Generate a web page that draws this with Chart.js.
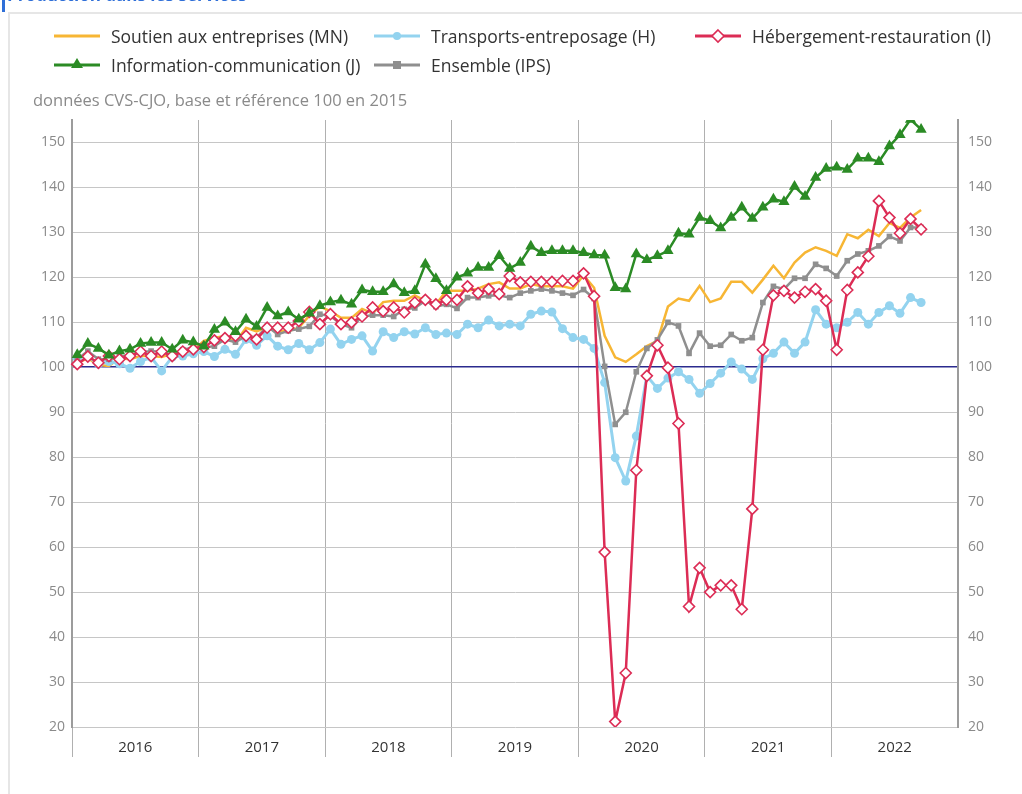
<!DOCTYPE html>
<html><head><meta charset="utf-8">
<script src="https://cdn.jsdelivr.net/npm/chart.js@4.4.1/dist/chart.umd.min.js"></script>
<style>
body{margin:0;background:#fff;font-family:"Open Sans",sans-serif;}
#wrap{position:relative;width:1022px;height:794px;overflow:hidden;background:#fff;}
#c{position:absolute;left:0;top:0;}
.title{position:absolute;left:7px;top:-17px;color:#2f6fd8;font-weight:bold;font-size:17px;white-space:nowrap;}
.bar{position:absolute;left:2px;top:0;width:3px;height:12px;background:#2f6fd8}
.frameTop{position:absolute;left:8px;top:12px;right:0;height:2px;background:#e6e6e6}
.frameLeft{position:absolute;left:8px;top:12px;bottom:0;width:2px;background:#e6e6e6}
.leg{position:absolute;font-size:17.5px;color:#333;display:flex;align-items:center;white-space:nowrap;height:22px;}
.leg svg{margin-right:10px;}
.sub{position:absolute;left:33px;top:88px;font-size:16.5px;color:#8a8a8a;white-space:nowrap;}
</style></head>
<body>
<div id="wrap">
<canvas id="c" width="1022" height="794"></canvas>
<div class="bar"></div>
<div class="title">Production dans les services</div>
<div class="frameTop"></div>
<div class="frameLeft"></div>
<div id="legend"></div>
<div class="sub">données CVS-CJO, base et référence 100 en 2015</div>
</div>
<script>
// ---- data ----
const years = ['2016','2017','2018','2019','2020','2021','2022'];
const months = [];
years.forEach(y => { for (let m = 1; m <= 12; m++) months.push(y + '-' + String(m).padStart(2,'0')); });

const soutienMN = [101,102,100.5,100.3,102,101.8,102.5,102.5,102.3,103,103.2,103.8,
105.9,106.5,107,105.5,108.8,108,109,108,108,108.8,111.5,113.5,
112.5,111,111,113,112,114.5,114.8,114.8,116,114.8,114,117,
117,117,117.5,118.5,118.9,117.5,117.5,118.5,118,118,118,117.5,
120.5,117.7,107,102.2,101.2,102.9,104.7,105.9,113.5,115.3,114.8,118.1,114.5,115.3,119,
119,116.6,119.5,122.6,119.8,123.3,125.5,126.7,125.9,124.8,129.6,128.7,130.6,129.2,132.1,131,133.3,135];

const transportsH = [102,102.5,100.7,101.3,100.8,99.8,101.3,102.2,99.2,102.3,102.5,103,103.5,102.4,104,102.9,
106.2,104.9,107,104.7,103.9,105.3,103.9,105.5,108.5,105.1,106.2,107,103.6,107.9,106.6,107.9,107.4,
108.8,107.3,107.6,107.3,109.6,108.8,110.5,109.2,109.6,109.2,111.8,112.5,112.3,108.6,106.6,106.2,104.2,
96.6,79.9,74.7,84.7,98.1,95.3,97.6,99,97.3,94.2,96.4,98.7,101.2,
99.6,97.3,101.9,103.1,105.6,103.1,105.6,112.8,109.6,108.8,110,112.2,109.6,112.2,113.7,112,115.5,114.4];

const hebergementI = [100.7,102.4,101,102.5,101.8,102.5,103.5,102.5,103.5,102.5,103.5,104,104.5,106,106.5,107,
107,106.2,108.8,108.8,108.8,110.3,112.3,109.6,111.8,109.6,110,111.3,113.3,112.5,113.3,112.2,114.4,
115,114,115,115,118,116.5,117.4,116.3,120.3,118.9,119,119,119,119.2,119.2,120.9,115.8,
58.9,21.2,32,77.1,98.1,104.9,99.9,87.5,46.8,55.4,50,51.5,51.5,46.2,68.5,
103.9,116,117,115.5,116.8,117.4,114.8,103.9,117.2,121.1,124.7,137,133.3,129.8,133,130.7];

const informationJ = [102.8,105.3,104.2,102.7,103.6,104,105.3,105.5,105.5,104,106,105.6,
104.7,108.4,110,107.9,110.7,109.1,113.3,111.4,112.3,110.7,112,113.7,
114.5,114.9,114,117.2,116.8,116.8,118.5,116.6,117,122.9,119.7,117,
120,120.9,122.2,122.2,124.8,122,123.3,126.9,125.5,125.9,125.9,125.9,
125.5,125,124.9,117.7,117.4,125.2,123.9,124.8,125.9,129.8,129.6,133.3,132.6,131,
133.3,135.6,133.1,135.6,137.4,136.8,140.2,138,142.2,144.2,144.5,144,146.5,146.5,145.7,149.2,151.7,155.1,152.9];

const ensembleIPS = [101.8,103.6,101.8,101.8,102.4,102.7,103.3,103.6,103.4,102.7,103.9,104.4,104.4,104.7,106.2,105.6,107,
106.6,109.1,107.3,108.1,108.5,109.1,111.8,111.4,109.6,108.8,111.3,111.6,111.6,111.3,112.9,113.2,
114.8,113.5,114,113.1,115.5,115.5,115.9,116,115.5,116.5,117,117.4,117,116.5,116,117.3,115.3,
100.2,87.3,90,99,104.2,106.1,110,109.2,103.1,107.6,104.7,104.9,107.3,
105.9,106.6,114.4,118,117.4,119.8,119.8,122.9,122,120.3,123.7,125.2,125.9,127,129.1,128.1,131.1,131.1];

const seriesNames = ['Soutien aux entreprises (MN)','Transports-entreposage (H)','Hébergement-restauration (I)','Information-communication (J)','Ensemble (IPS)'];
const yTicksMin = 20, yTicksMax = 155, yStep = 10, refValue = 100;

// ---- styles ----
const C = {yellow:'#f7b634', blue:'#93d3ef', red:'#dc2c55', green:'#2b8b25', gray:'#8f8f8f'};

// ---- legend (HTML) ----
const legItems = [
 {name:seriesNames[0], color:C.yellow, marker:'none', x:53, y:25},
 {name:seriesNames[1], color:C.blue, marker:'circle', x:373, y:25},
 {name:seriesNames[2], color:C.red, marker:'diamond', x:694, y:25},
 {name:seriesNames[3], color:C.green, marker:'triangle', x:53, y:54},
 {name:seriesNames[4], color:C.gray, marker:'square', x:373, y:54}
];
const legDiv = document.getElementById('legend');
legItems.forEach(it => {
  let m = '';
  if (it.marker==='circle') m = `<circle cx="24" cy="11" r="4" fill="${it.color}"/>`;
  if (it.marker==='diamond') m = `<polygon points="24,5 30,11 24,17 18,11" fill="#fff" stroke="${it.color}" stroke-width="1.6"/>`;
  if (it.marker==='triangle') m = `<polygon points="24,4 30,14 18,14" fill="${it.color}"/>`;
  if (it.marker==='square') m = `<rect x="20" y="7" width="8" height="8" fill="${it.color}"/>`;
  const d = document.createElement('div');
  d.className = 'leg';
  d.style.left = it.x + 'px'; d.style.top = it.y + 'px';
  d.innerHTML = `<svg width="48" height="22"><line x1="1" y1="11" x2="47" y2="11" stroke="${it.color}" stroke-width="3"/>${m}</svg><span>${it.name}</span>`;
  legDiv.appendChild(d);
});

// ---- chart ----
const gridCol = '#c6c6c6';
new Chart(document.getElementById('c'), {
  type:'line',
  data:{
    labels: months,
    datasets:[
      {label:seriesNames[0], data:soutienMN, borderColor:C.yellow, backgroundColor:C.yellow, borderWidth:2.5, pointRadius:0, order:5},
      {label:seriesNames[1], data:transportsH, borderColor:C.blue, backgroundColor:C.blue, borderWidth:3, pointStyle:'circle', pointRadius:4.5, pointBorderWidth:0, pointBackgroundColor:C.blue, order:4},
      {label:seriesNames[2], data:hebergementI, borderColor:C.red, backgroundColor:'#fff', borderWidth:2.5, pointStyle:'rectRot', pointRadius:5.5, pointBorderWidth:1.6, pointBackgroundColor:'#fff', pointBorderColor:C.red, order:2},
      {label:seriesNames[3], data:informationJ, borderColor:C.green, backgroundColor:C.green, borderWidth:2.5, pointStyle:'triangle', pointRadius:6.5, pointBorderWidth:0, pointBackgroundColor:C.green, order:1},
      {label:seriesNames[4], data:ensembleIPS, borderColor:C.gray, backgroundColor:C.gray, borderWidth:2.5, pointStyle:'rect', pointRadius:4, pointBorderWidth:0, pointBackgroundColor:C.gray, order:3}
    ]
  },
  options:{
    responsive:false, animation:false, devicePixelRatio:1,
    layout:{padding:{top:120,bottom:0,left:0,right:0}},
    plugins:{legend:{display:false}, tooltip:{enabled:false}},
    elements:{line:{tension:0}},
    scales:{
      x:{
        type:'category', offset:true,
        grid:{offset:true, drawOnChartArea:true, tickLength:30,
          color:c => (c.index % 12 === 0) ? '#b0b0b0' : 'rgba(0,0,0,0)',
          tickColor:c => (c.index % 12 === 0) ? '#b0b0b0' : 'rgba(0,0,0,0)', lineWidth:1},
        border:{display:false},
        ticks:{autoSkip:false, maxRotation:0, minRotation:0, labelOffset:-5.27, padding:-18, color:'#333',
          font:{family:'"Open Sans"', size:15},
          callback:(v,i) => months[i].endsWith('-07') ? months[i].slice(0,4) : ''},
        afterFit:s => { s.height = 67; }
      },
      y:{
        position:'left', min:yTicksMin, max:yTicksMax,
        ticks:{stepSize:yStep, includeBounds:false, color:'#8a8a8a', padding:7, font:{family:'"Open Sans"', size:14}},
        grid:{drawTicks:false, color:c => (c.tick && c.tick.value === refValue) ? '#2b2b8e' : gridCol,
          lineWidth:c => (c.tick && c.tick.value === refValue) ? 1.6 : 1},
        border:{color:'#9c9c9c', width:2},
        afterFit:s => { s.width = 72; }
      },
      y2:{
        position:'right', min:yTicksMin, max:yTicksMax,
        ticks:{stepSize:yStep, includeBounds:false, color:'#8a8a8a', padding:10, font:{family:'"Open Sans"', size:14}},
        grid:{drawOnChartArea:false, drawTicks:false},
        border:{color:'#9c9c9c', width:2},
        afterFit:s => { s.width = 64; }
      }
    }
  }
});
</script>
</body></html>
